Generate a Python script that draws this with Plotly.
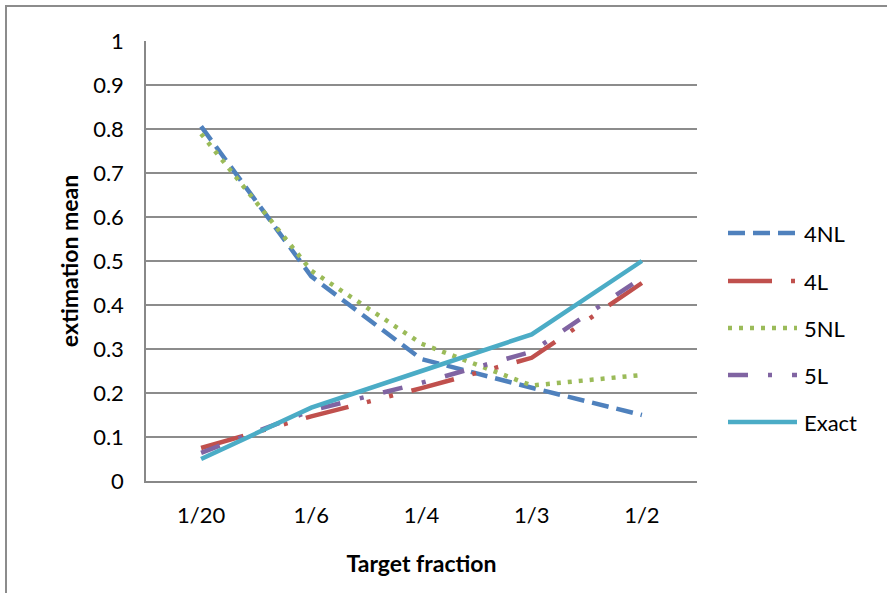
import plotly.graph_objects as go

categories = ["1/20", "1/6", "1/4", "1/3", "1/2"]
s_4NL = [0.806, 0.465, 0.277, 0.212, 0.150]
s_4L = [0.075, 0.147, 0.211, 0.280, 0.450]
s_5NL = [0.789, 0.478, 0.312, 0.217, 0.241]
s_5L = [0.064, 0.160, 0.223, 0.294, 0.462]
s_exact = [0.05, 0.1667, 0.25, 0.3333, 0.5]
y_ticks = [0, 0.1, 0.2, 0.3, 0.4, 0.5, 0.6, 0.7, 0.8, 0.9, 1]

FONT = "Lato, 'Open Sans', sans-serif"

series = [
    ("4NL", s_4NL, "#4F81BD", "17px,8px"),
    ("4L", s_4L, "#C0504D", "44px,19px,4px,19px,4px,19px"),
    ("5NL", s_5NL, "#9BBB59", "4px,7px"),
    ("5L", s_5L, "#8064A2", "20px,20px,4px,20px"),
    ("Exact", s_exact, "#4BACC6", "solid"),
]

W, H = 887, 593
ML, MR, MT, MB = 146, 190, 41, 112
PW, PH = W - ML - MR, H - MT - MB


def px_x(px):
    return (px - ML) / PW


def px_y(py):
    return (H - MB - py) / PH


fig = go.Figure()
shapes = [dict(type="rect", xref="paper", yref="paper",
               x0=px_x(6), x1=px_x(1000), y0=px_y(700), y1=px_y(6),
               line=dict(color="#8C8C8C", width=2), layer="below")]
annotations = []

legend_y = [233, 281, 328, 375, 422]
for i, (name, vals, color, dash) in enumerate(series):
    fig.add_trace(go.Scatter(
        x=categories, y=vals, name=name, mode="lines",
        line=dict(color=color, width=4.5, dash=dash),
        showlegend=False,
    ))
    ly = legend_y[i]
    shapes.append(dict(type="line", xref="paper", yref="paper",
                       x0=px_x(728), x1=px_x(797), y0=px_y(ly), y1=px_y(ly),
                       line=dict(color=color, width=4.5, dash=dash)))
    annotations.append(dict(xref="paper", yref="paper", x=px_x(802), y=px_y(ly),
                            xanchor="left", yanchor="middle", showarrow=False,
                            text=name, font=dict(family=FONT, size=22, color="black")))

fig.update_layout(
    width=W, height=H,
    margin=dict(l=ML, r=MR, t=MT, b=MB),
    paper_bgcolor="white", plot_bgcolor="white",
    font=dict(family=FONT, size=22, color="black"),
    showlegend=False,
    xaxis=dict(
        type="category", range=[-0.5, 4.5],
        showgrid=False, showline=True, linecolor="#888888", linewidth=1.5,
        ticks="", tickfont=dict(size=22), ticklabelstandoff=14,
        title=dict(text="<b>Target fraction</b>", font=dict(size=23), standoff=29),
    ),
    yaxis=dict(
        range=[0, 1], tickvals=y_ticks,
        showgrid=True, gridcolor="#8C8C8C", gridwidth=1.5,
        showline=True, linecolor="#888888", linewidth=1.5,
        ticks="", ticklabelstandoff=16, tickfont=dict(size=22),
        zeroline=False,
        title=dict(text="<b>extimation mean</b>", font=dict(size=23), standoff=8),
    ),
    shapes=shapes,
    annotations=annotations,
)

fig.write_html("out.html")
